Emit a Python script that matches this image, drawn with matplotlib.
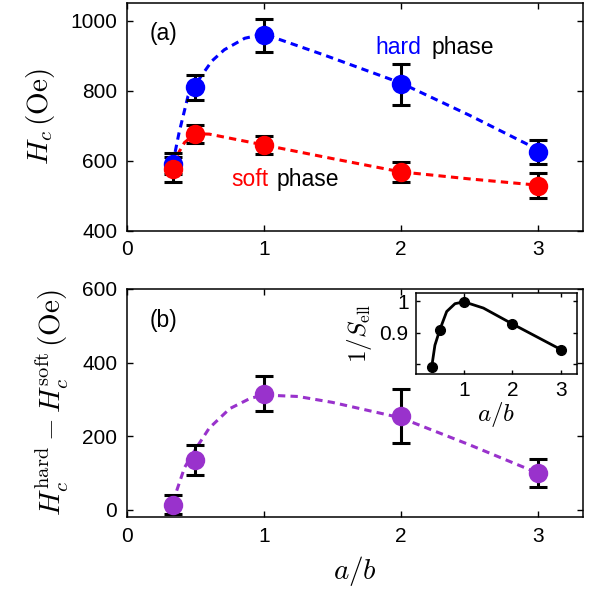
import numpy as np
import matplotlib
matplotlib.use("Agg")
import matplotlib.pyplot as plt

plt.rcParams['font.family'] = ['Liberation Sans', 'DejaVu Sans']
plt.rcParams['mathtext.fontset'] = 'cm'

# data
ab = [1/3, 0.5, 1, 2, 3]
hc_hard = [592, 810, 959, 818, 626]
err_hard = [30, 36, 47, 58, 34]
hc_soft = [575, 677, 645, 568, 528]
err_soft = [37, 25, 26, 28, 36]
dhc = [14, 135, 316, 254, 100]
err_dhc = [26, 40, 47, 73, 38]

# dashed guide curves
fit_hard_x = [1/3, 0.38, 0.445, 0.5, 0.54, 0.62, 0.71, 0.86, 1.0, 1.44, 2.0, 2.5, 3.0]
fit_hard_y = [590, 680, 784, 818, 841, 885, 917, 950, 962, 902, 822, 730, 632]
fit_soft_x = [1/3, 0.38, 0.42, 0.5, 0.6, 1.0, 1.5, 2.0, 2.5, 3.0]
fit_soft_y = [582, 625, 652, 677, 676, 645, 606, 568, 548, 530]
fit_dhc_x = [1/3, 0.42, 0.5, 0.6, 0.75, 0.9, 1.0, 1.25, 1.5, 2.0, 2.5, 3.0]
fit_dhc_y = [20, 115, 165, 222, 275, 303, 312, 308, 292, 250, 177, 100]

inset_y = [0.790, 0.909, 0.998, 0.928, 0.846]
inset_cx = [1/3, 0.4, 0.5, 0.643, 0.814, 1.0, 1.4, 2.0, 2.5, 3.0]
inset_cy = [0.790, 0.86, 0.909, 0.968, 0.993, 0.999, 0.979, 0.928, 0.887, 0.846]

blue = '#0000ff'
red = '#ff0000'
purple = '#9932cc'
dash = (0, (2.4, 1.7))

fig = plt.figure(figsize=(5.93, 5.93), dpi=100)
ax1 = fig.add_axes([0.2142, 0.611, 0.769, 0.3835])
ax2 = fig.add_axes([0.2142, 0.1277, 0.769, 0.385])
axin = fig.add_axes([0.7007, 0.3688, 0.2723, 0.137])


def style(ax, fs=15):
    ax.tick_params(direction='in', top=True, right=True, length=4,
                   width=1, labelsize=fs, pad=7)
    for s in ax.spines.values():
        s.set_linewidth(1.1)


# panel (a)
ax1.plot(fit_hard_x, fit_hard_y, color=blue, lw=2.2, ls=dash, zorder=1)
ax1.plot(fit_soft_x, fit_soft_y, color=red, lw=2.2, ls=dash, zorder=1)
ax1.errorbar(ab, hc_hard, yerr=err_hard, fmt='none', ecolor='k',
             elinewidth=2.2, capsize=6.5, capthick=2.2, zorder=2)
ax1.errorbar(ab, hc_soft, yerr=err_soft, fmt='none', ecolor='k',
             elinewidth=2.2, capsize=6.5, capthick=2.2, zorder=2)
ax1.plot(ab, hc_hard, 'o', color=blue, ms=14, mec='none', zorder=3)
ax1.plot(ab, hc_soft, 'o', color=red, ms=14, mec='none', zorder=4)
ax1.set_xlim(0, 3.33)
ax1.set_ylim(400, 1050)
ax1.set_xticks([0, 1, 2, 3])
ax1.set_yticks([400, 600, 800, 1000])
ax1.set_ylabel(r'$H_c\,(\mathrm{Oe})$', fontsize=21, labelpad=10)
style(ax1)
ax1.text(0.08, 0.865, '(a)', transform=ax1.transAxes, fontsize=16.5,
         ha='center', va='center')
ax1.text(0.646, 0.776, 'hard', transform=ax1.transAxes, fontsize=16.5,
         color=blue, ha='right', va='baseline')
ax1.text(0.667, 0.776, 'phase', transform=ax1.transAxes, fontsize=16.5,
         color='k', ha='left', va='baseline')
ax1.text(0.311, 0.197, 'soft', transform=ax1.transAxes, fontsize=16.5,
         color=red, ha='right', va='baseline')
ax1.text(0.327, 0.197, 'phase', transform=ax1.transAxes, fontsize=16.5,
         color='k', ha='left', va='baseline')

# panel (b)
ax2.plot(fit_dhc_x, fit_dhc_y, color=purple, lw=2.2, ls=dash, zorder=1)
ax2.errorbar(ab, dhc, yerr=err_dhc, fmt='none', ecolor='k',
             elinewidth=2.2, capsize=6.5, capthick=2.2, zorder=2)
ax2.plot(ab, dhc, 'o', color=purple, ms=14, mec='none', zorder=3)
ax2.set_xlim(0, 3.33)
ax2.set_ylim(-20, 600)
ax2.set_xticks([0, 1, 2, 3])
ax2.set_yticks([0, 200, 400, 600])
ax2.set_ylabel(r'$H_c^{\mathrm{hard}} - H_c^{\mathrm{soft}}\,(\mathrm{Oe})$',
               fontsize=21, labelpad=8)
ax2.set_xlabel(r'$a/b$', fontsize=21, labelpad=6)
style(ax2)
ax2.text(0.08, 0.86, '(b)', transform=ax2.transAxes, fontsize=16.5,
         ha='center', va='center')

# inset
axin.plot(inset_cx, inset_cy, color='k', lw=2, zorder=1)
axin.plot(ab, inset_y, 'o', color='k', ms=7, zorder=2)
axin.set_xlim(0, 3.33)
axin.set_ylim(0.767, 1.027)
axin.set_xticks([1, 2, 3])
axin.set_yticks([0.8, 0.9, 1.0])
axin.set_yticklabels(['', '0.9', '1'])
axin.set_ylabel(r'$1/S_{\mathrm{ell}}$', fontsize=18, labelpad=4)
axin.set_xlabel(r'$a/b$', fontsize=18, labelpad=0)
style(axin)
axin.tick_params(length=3, pad=5)

fig.savefig('out.png', dpi=100)
